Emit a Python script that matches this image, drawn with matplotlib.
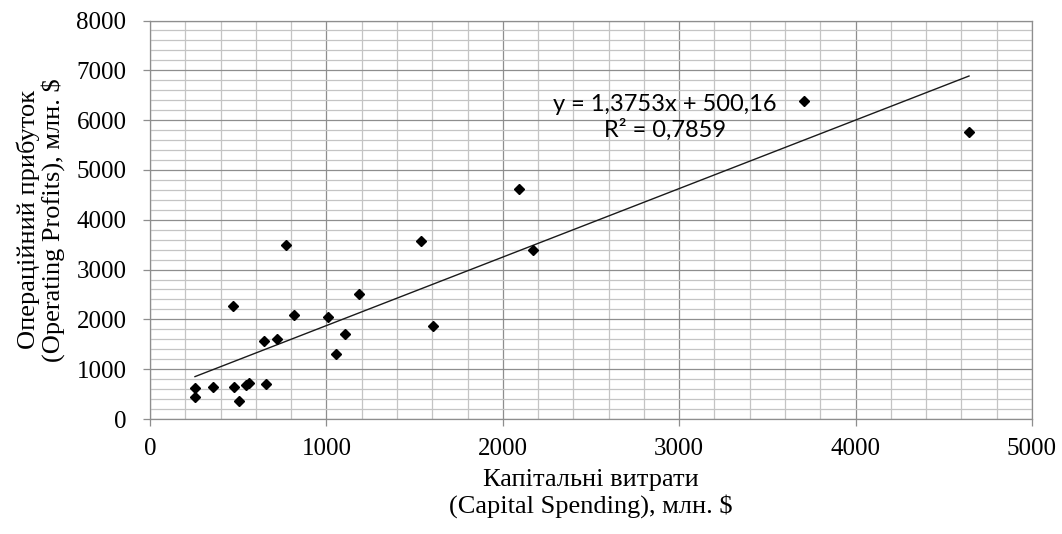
import matplotlib
matplotlib.use("Agg")
import matplotlib.pyplot as plt
from matplotlib.ticker import MultipleLocator
import numpy as np

# Data
capital_spending = [255, 255, 355, 472, 478, 506, 544, 561, 646, 658, 718, 771,
                    814, 1011, 1054, 1107, 1183, 1536, 1606, 2091, 2170, 3706, 4643]
operating_profits = [628, 447, 648, 2273, 648, 355, 682, 716, 1565, 702, 1611, 3497,
                     2080, 2040, 1297, 1712, 2501, 3571, 1866, 4627, 3393, 6380, 5767]
trend_slope = 1.3753
trend_intercept = 500.16
r_squared = 0.7859

x_ticks = [0, 1000, 2000, 3000, 4000, 5000]
y_ticks = [0, 1000, 2000, 3000, 4000, 5000, 6000, 7000, 8000]

fig = plt.figure(figsize=(10.62, 5.34), dpi=100)
ax = fig.add_axes([150/1062, 1 - 419/534, (1032-150)/1062, (419-20.5)/534])

serif = ['Liberation Serif', 'DejaVu Serif']

ax.set_xlim(0, 5000)
ax.set_ylim(0, 8000)
ax.set_xticks(x_ticks)
ax.set_yticks(y_ticks)
ax.xaxis.set_minor_locator(MultipleLocator(200))
ax.yaxis.set_minor_locator(MultipleLocator(200))

ax.grid(which='minor', color='#c4c4c4', linewidth=0.9)
ax.grid(which='major', color='#8e8e8e', linewidth=0.9)
ax.set_axisbelow(True)

for s in ax.spines.values():
    s.set_color('#8e8e8e')
    s.set_linewidth(0.9)

ax.tick_params(which='minor', length=0)
ax.tick_params(which='major', length=5, color='#8e8e8e', width=0.9, labelsize=18)
ax.tick_params(axis='x', pad=9)
ax.tick_params(axis='y', pad=12)
for lab in ax.get_xticklabels() + ax.get_yticklabels():
    lab.set_family(serif)

# trend line
xs = np.array([min(capital_spending), max(capital_spending)])
ax.plot(xs, trend_slope * xs + trend_intercept, color='#1a1a1a', linewidth=1.0, zorder=3)

ax.plot(capital_spending, operating_profits, linestyle='none', marker='D',
        markersize=5, color='black', zorder=4)

eq = f"y = {trend_slope:.4f}x + {trend_intercept:.2f}".replace('.', ',')
r2 = f"R² = {r_squared:.4f}".replace('.', ',')
ax.text(2920, 6060, eq + "\n" + r2, ha='center', va='center', multialignment='center',
        fontsize=17, family=['Lato', 'DejaVu Sans'], linespacing=1.2, zorder=5)

ax.set_xlabel("Капітальні витрати\n(Capital Spending), млн. $", fontsize=19,
              family=serif, labelpad=6, linespacing=1.2)
ax.set_ylabel("Операційний прибуток\n(Operating Profits), млн. $", fontsize=19,
              family=serif, labelpad=8, linespacing=1.1)

fig.savefig("out.png", dpi=100)
